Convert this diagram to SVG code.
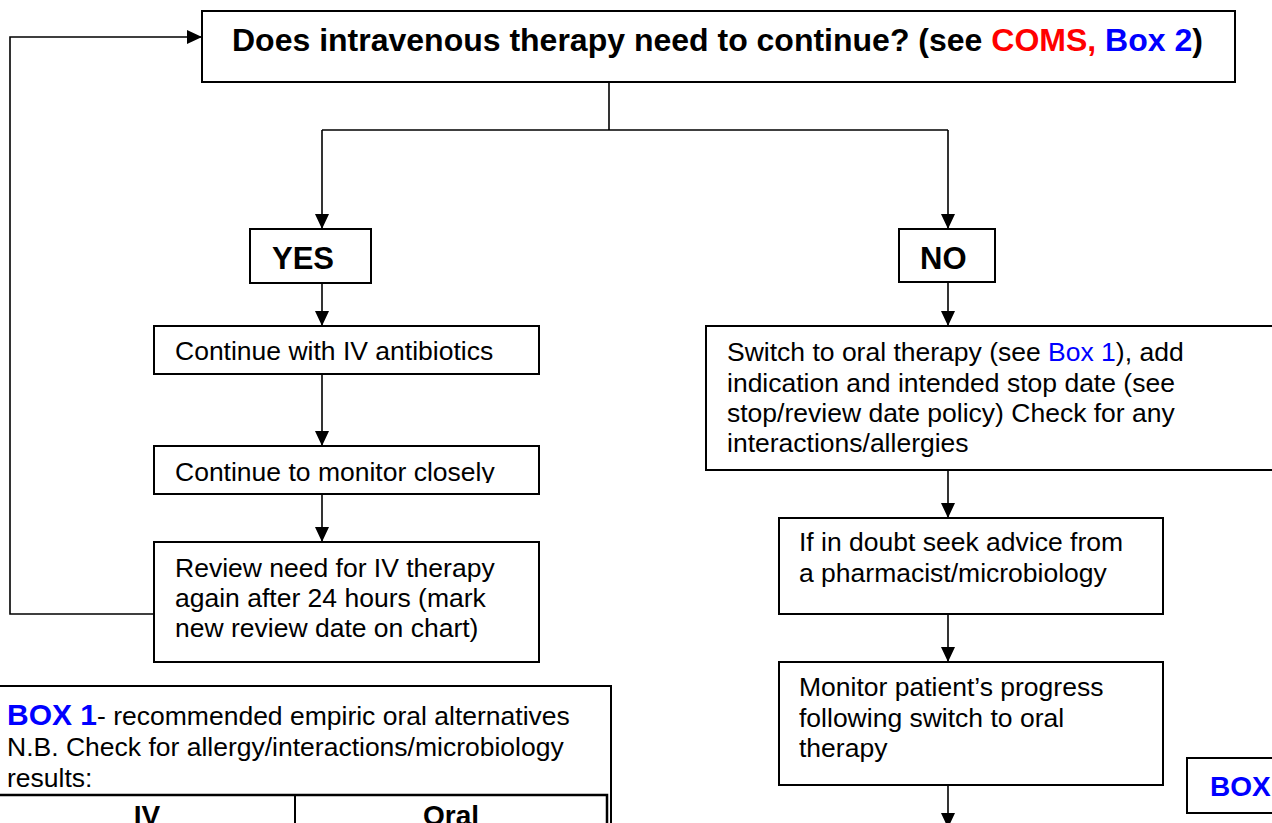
<svg xmlns="http://www.w3.org/2000/svg" width="1272" height="823" viewBox="0 0 1272 823">
<style>
.box{fill:#fff;stroke:#000;stroke-width:2}
.c{fill:none;stroke:#000;stroke-width:1.6}
.t{font-family:"Liberation Sans",Arial,sans-serif;font-size:26.5px;fill:#000}
.b{font-family:"Liberation Sans",Arial,sans-serif;font-weight:bold;fill:#000}
.blue{fill:#0000ff}
.red{fill:#ff0000}
</style>
<defs>
<marker id="ah" markerUnits="userSpaceOnUse" markerWidth="16" markerHeight="15" refX="15" refY="7" orient="auto">
<path d="M0,0 L15,7 L0,14 z" fill="#000"/>
</marker>
<clipPath id="clipMon"><rect x="150" y="440" width="400" height="43"/></clipPath>
</defs>
<g id="connectors">
<path class="c" d="M609,82 V130"/>
<path class="c" d="M322,130 H948"/>
<path class="c" d="M322,130 V229" marker-end="url(#ah)"/>
<path class="c" d="M948,130 V229" marker-end="url(#ah)"/>
<path class="c" d="M322,283 V326" marker-end="url(#ah)"/>
<path class="c" d="M322,374 V446" marker-end="url(#ah)"/>
<path class="c" d="M322,494 V542" marker-end="url(#ah)"/>
<path class="c" d="M154,614 H10 V37 H202" marker-end="url(#ah)"/>
<path class="c" d="M948,282 V326" marker-end="url(#ah)"/>
<path class="c" d="M948,470 V518" marker-end="url(#ah)"/>
<path class="c" d="M948,614 V662" marker-end="url(#ah)"/>
<path class="c" d="M948,785 V828" marker-end="url(#ah)"/>
</g>
<g id="title">
<rect class="box" x="202" y="11" width="1033" height="71"/>
<text class="b" x="232" y="51" font-size="32">Does intravenous therapy need to continue? (see <tspan class="red">COMS,</tspan> <tspan class="blue">Box 2</tspan>)</text>
</g>
<g id="yes">
<rect class="box" x="250" y="229" width="121" height="54"/>
<text class="b" x="272" y="269" font-size="31">YES</text>
</g>
<g id="no">
<rect class="box" x="899" y="229" width="96" height="53"/>
<text class="b" x="920" y="269" font-size="31">NO</text>
</g>
<g id="continue-iv">
<rect class="box" x="154" y="326" width="385" height="48"/>
<text class="t" x="175" y="360">Continue with IV antibiotics</text>
</g>
<g id="monitor-closely">
<rect class="box" x="154" y="446" width="385" height="48"/>
<text class="t" x="175" y="481" clip-path="url(#clipMon)">Continue to monitor closely</text>
</g>
<g id="review">
<rect class="box" x="154" y="542" width="385" height="120"/>
<text class="t" x="175" y="577">Review need for IV therapy</text>
<text class="t" x="175" y="607">again after 24 hours (mark</text>
<text class="t" x="175" y="637">new review date on chart)</text>
</g>
<g id="switch">
<rect class="box" x="706" y="326" width="580" height="144"/>
<text class="t" x="727" y="361">Switch to oral therapy (see <tspan class="blue">Box 1</tspan>), add</text>
<text class="t" x="727" y="391.5">indication and intended stop date (see</text>
<text class="t" x="727" y="422">stop/review date policy) Check for any</text>
<text class="t" x="727" y="452">interactions/allergies</text>
</g>
<g id="advice">
<rect class="box" x="779" y="518" width="384" height="96"/>
<text class="t" x="799" y="551">If in doubt seek advice from</text>
<text class="t" x="799" y="582">a pharmacist/microbiology</text>
</g>
<g id="monitor-progress">
<rect class="box" x="779" y="662" width="384" height="123"/>
<text class="t" x="799" y="696">Monitor patient’s progress</text>
<text class="t" x="799" y="727">following switch to oral</text>
<text class="t" x="799" y="757">therapy</text>
</g>
<g id="box2">
<rect class="box" x="1187" y="758" width="120" height="55"/>
<text class="b blue" x="1210" y="796" font-size="28">BOX</text>
</g>
<g id="box1">
<rect class="box" x="-2" y="686" width="613" height="200"/>
<text class="t" x="7" y="725"><tspan class="b blue" font-size="30">BOX 1</tspan>- recommended empiric oral alternatives</text>
<text class="t" x="7" y="756">N.B. Check for allergy/interactions/microbiology</text>
<text class="t" x="7" y="787">results:</text>
<rect x="-2" y="795" width="609" height="100" fill="none" stroke="#000" stroke-width="2.5"/>
<line x1="295" y1="795" x2="295" y2="823" stroke="#000" stroke-width="2"/>
<text class="b" x="147" y="825" font-size="28" text-anchor="middle">IV</text>
<text class="b" x="451" y="825" font-size="28" text-anchor="middle">Oral</text>
</g>
</svg>
